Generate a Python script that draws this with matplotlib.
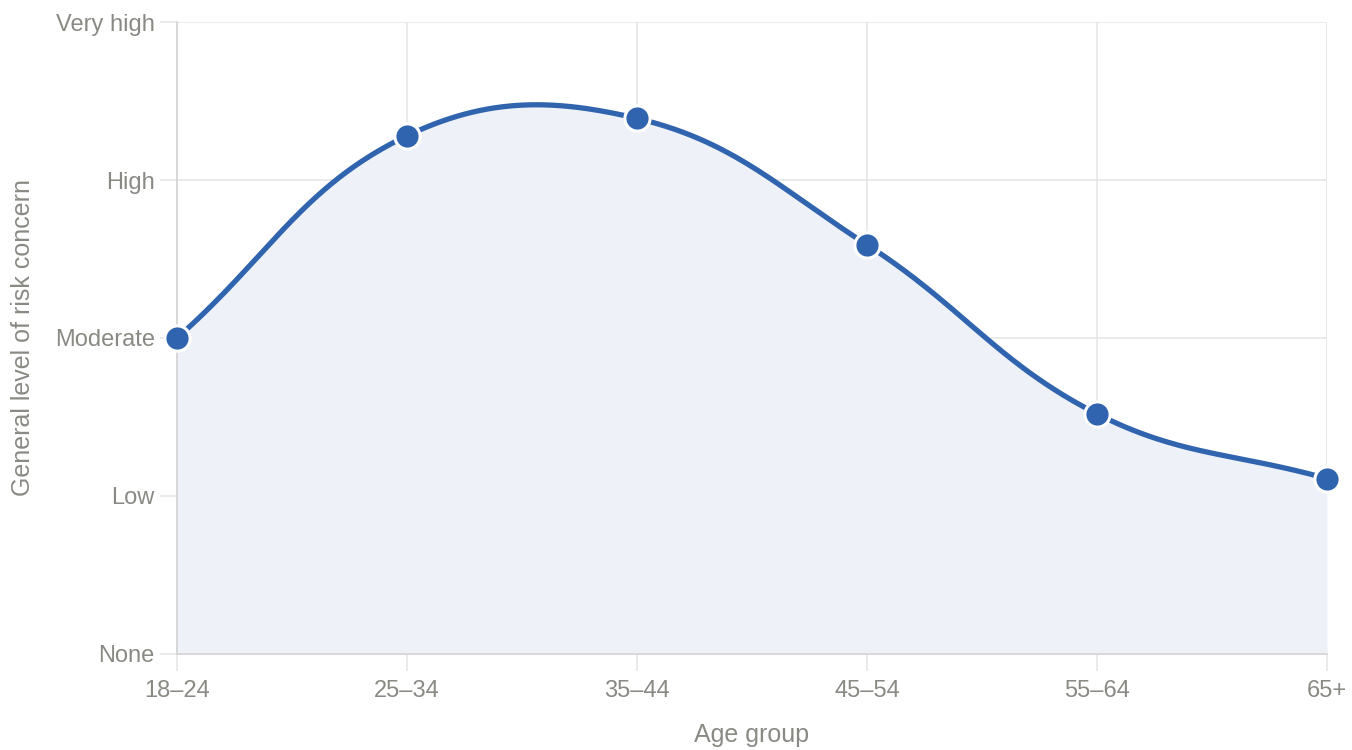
import numpy as np
import matplotlib.pyplot as plt

plt.rcParams['font.family'] = ['Liberation Sans', 'DejaVu Sans']

age_groups = ['18–24', '25–34', '35–44', '45–54', '55–64', '65+']
concern = [2.0, 3.28, 3.39, 2.59, 1.52, 1.11]
level_labels = ['None', 'Low', 'Moderate', 'High', 'Very high']

LINE = '#3064ae'
FILL = '#eef1f8'
GRID = '#e6e6e6'
TEXT = '#8a8a84'


def spline_controls(xs, ys, tension=0.4, sx=1.0, sy=1.0):
    """Bezier control points the way Chart.js builds them (distances in pixel units)."""
    px = np.asarray(xs, float) * sx
    py = np.asarray(ys, float) * sy
    n = len(px)
    c_prev, c_next = [], []
    for i in range(n):
        pi = max(i - 1, 0)
        ni = min(i + 1, n - 1)
        d01 = np.hypot(px[i] - px[pi], py[i] - py[pi])
        d12 = np.hypot(px[ni] - px[i], py[ni] - py[i])
        tot = d01 + d12
        s01 = d01 / tot if tot else 0.0
        s12 = d12 / tot if tot else 0.0
        dx = px[ni] - px[pi]
        dy = py[ni] - py[pi]
        c_prev.append(((px[i] - tension * s01 * dx) / sx, (py[i] - tension * s01 * dy) / sy))
        c_next.append(((px[i] + tension * s12 * dx) / sx, (py[i] + tension * s12 * dy) / sy))
    return c_prev, c_next


def bezier_points(xs, ys, c_prev, c_next, steps=60):
    out_x, out_y = [xs[0]], [ys[0]]
    t = np.linspace(0, 1, steps)[1:]
    for i in range(len(xs) - 1):
        p0 = np.array([xs[i], ys[i]])
        p1 = np.array(c_next[i])
        p2 = np.array(c_prev[i + 1])
        p3 = np.array([xs[i + 1], ys[i + 1]])
        pts = ((1 - t)[:, None] ** 3 * p0 + 3 * ((1 - t) ** 2 * t)[:, None] * p1
               + 3 * ((1 - t) * t ** 2)[:, None] * p2 + (t ** 3)[:, None] * p3)
        out_x.extend(pts[:, 0])
        out_y.extend(pts[:, 1])
    return np.array(out_x), np.array(out_y)


fig = plt.figure(figsize=(13.52, 7.5), dpi=100)
ax = fig.add_axes([177 / 1352, 96 / 750, 1150 / 1352, 632 / 750])

x = np.arange(len(age_groups))
sx = 1150 / (len(age_groups) - 1)
sy = 632 / 4
cp, cn = spline_controls(x, concern, 0.4, sx, sy)
cx, cy = bezier_points(x, concern, cp, cn)

ax.fill_between(cx, 0, cy, color=FILL, lw=0, zorder=1)
ax.plot(cx, cy, color=LINE, lw=3.8, solid_capstyle='round', zorder=3, clip_on=False)
ax.scatter(x, concern, s=330, color=LINE, edgecolor='white', linewidth=2.2,
           zorder=4, clip_on=False)

ax.set_xlim(0, len(age_groups) - 1)
ax.set_ylim(0, 4)
ax.set_xticks(x)
ax.set_xticklabels(age_groups)
ax.set_yticks(range(len(level_labels)))
ax.set_yticklabels(level_labels)

ax.grid(True, color=GRID, lw=1.2, zorder=0)
ax.set_axisbelow(True)
for side in ['top', 'right']:
    ax.spines[side].set_visible(False)
for side in ['left', 'bottom']:
    ax.spines[side].set_color('#d6d6d6')
    ax.spines[side].set_linewidth(1.3)
ax.tick_params(axis='both', colors=GRID, length=12, width=1.2,
               labelcolor=TEXT, labelsize=17)
ax.tick_params(axis='y', pad=4)
ax.tick_params(axis='x', pad=7)

ax.set_xlabel('Age group', color=TEXT, fontsize=18, labelpad=15)
ax.set_ylabel('General level of risk concern', color=TEXT, fontsize=18, labelpad=14)
for s in ax.spines.values():
    s.set_zorder(2)
ax.set_facecolor('none')

fig.savefig('out.png', dpi=100, facecolor='white')
